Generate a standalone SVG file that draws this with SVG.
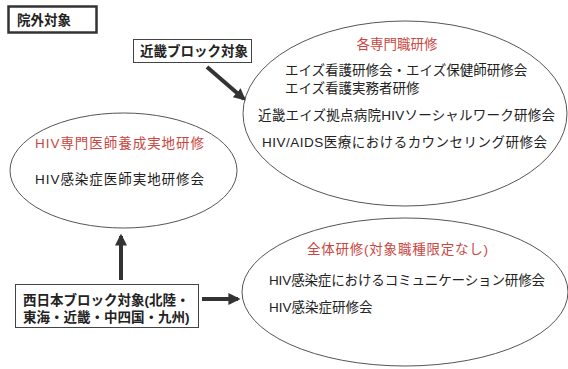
<svg xmlns="http://www.w3.org/2000/svg" width="568" height="369" viewBox="0 0 568 369">
<style>
.t{font-family:"Liberation Sans","Noto Sans CJK JP",sans-serif;font-size:13.5px;fill:#222}
.r{fill:#c9473f}
.b{font-weight:bold}
.el{fill:none;stroke:#555;stroke-width:1}
.box{fill:#fff;stroke:#444;stroke-width:1}
.ar{stroke:#333;stroke-width:4;fill:none}
</style>
<defs>
<marker id="ah" viewBox="0 0 10 10" refX="8" refY="5" markerWidth="3" markerHeight="3" orient="auto" markerUnits="strokeWidth">
<path d="M0,0 L10,5 L0,10 z" fill="#333"/>
</marker>
</defs>
<rect width="568" height="369" fill="#fff"/>
<g id="n-ingai">
<rect x="8.5" y="6.5" width="88" height="26" fill="#fff" stroke="#333" stroke-width="2.5"/>
<text class="t b" x="17" y="25" font-size="14">院外対象</text>
</g>
<g id="n-kinki">
<rect class="box" x="133.5" y="39.5" width="118" height="23"/>
<text class="t b" x="140" y="56">近畿ブロック対象</text>
</g>
<g id="n-senmon">
<ellipse class="el" cx="405" cy="113.5" rx="162" ry="92.5"/>
<text class="t r" x="397" y="49" text-anchor="middle">各専門職研修</text>
<text class="t" x="285" y="75">エイズ看護研修会・エイズ保健師研修会</text>
<text class="t" x="285" y="93">エイズ看護実務者研修</text>
<text class="t" x="258" y="120" textLength="297">近畿エイズ拠点病院HIVソーシャルワーク研修会</text>
<text class="t" x="262" y="147" textLength="285">HIV/AIDS医療におけるカウンセリング研修会</text>
</g>
<g id="n-ishi">
<ellipse class="el" cx="123.5" cy="170.5" rx="113.5" ry="57.5"/>
<text class="t r" x="35" y="148" textLength="169">HIV専門医師養成実地研修</text>
<text class="t" x="35" y="184" textLength="169">HIV感染症医師実地研修会</text>
</g>
<g id="n-nishi">
<rect class="box" x="15.5" y="284.5" width="183" height="43"/>
<text class="t b" x="23" y="305">西日本ブロック対象(北陸・</text>
<text class="t b" x="23" y="322">東海・近畿・中四国・九州)</text>
</g>
<g id="n-zentai">
<ellipse class="el" cx="405" cy="292" rx="163" ry="74"/>
<text class="t r" x="307" y="254" textLength="181">全体研修(対象職種限定なし)</text>
<text class="t" x="269" y="285" textLength="276">HIV感染症におけるコミュニケーション研修会</text>
<text class="t" x="269" y="312">HIV感染症研修会</text>
</g>
<g id="connectors">
<line class="ar" x1="207" y1="67" x2="244" y2="99" marker-end="url(#ah)"/>
<line class="ar" x1="121" y1="280" x2="121" y2="236" marker-end="url(#ah)"/>
<line class="ar" x1="202" y1="299" x2="238" y2="299" marker-end="url(#ah)"/>
</g>
</svg>
